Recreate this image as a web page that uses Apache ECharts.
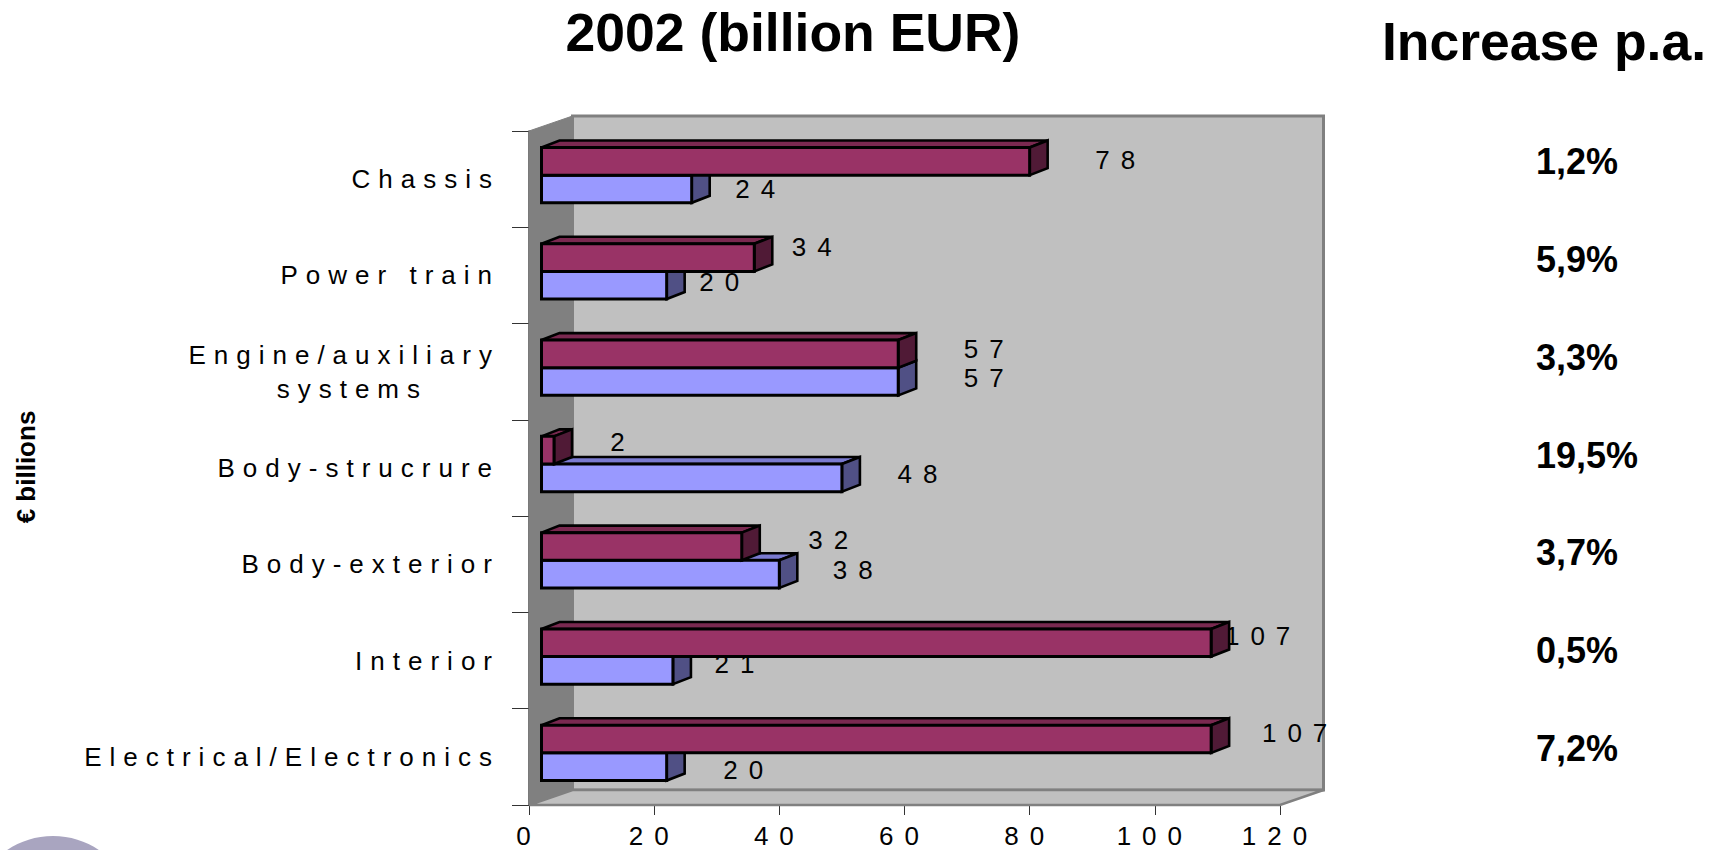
<!DOCTYPE html>
<html><head><meta charset="utf-8">
<style>
html,body{margin:0;padding:0;background:#fff}
#c{width:1715px;height:850px}
svg text[fill="#010101"]{letter-spacing:8px}
svg text[fill="#020202"]{letter-spacing:11px}
</style>
<script src="https://cdn.jsdelivr.net/npm/echarts@6/dist/echarts.min.js"></script>
</head><body><div id="c"></div>
<script>
const categories = ['Chassis','Power train','Engine/auxiliary\n{p|systems}','Body-strucrure','Body-exterior','Interior','Electrical/Electronics'];
const maroonValues = [78,34,57,2,32,107,107];
const blueValues = [24,20,57,48,38,21,20];
const increasePa = ['1,2%','5,9%','3,3%','19,5%','3,7%','0,5%','7,2%'];
const xTicks = [0,20,40,60,80,100,120];
const maroonLabelShiftX = [91,63,91,69,92,52,89];
const maroonLabelShiftY = [-1,-11,-5,-8,-6,-7,-6];
const blueLabelShiftX = [69,58,91,81,79,67,82];
const blueLabelShiftY = [0,-3,-4,-4,-4,-6,3];

const FONT = '"Liberation Sans", Arial, sans-serif';
const WALL_DX = 43.5, WALL_DY = -15;
const BAR_X = 12.5, BAR_Y = -4, BAR_FRAC = 0.287, BAR_DX = 18, BAR_DY = -7;

function poly(points, fill, stroke, lw){
  return {type:'polygon', shape:{points}, style:{fill, stroke, lineWidth:lw, lineJoin:'miter'}};
}
function wallItem(params, api){
  const o = api.coord([0, 6]);
  const size = api.size([0, 1]);
  const bandH = size[1];
  const l = o[0], b = o[1] + bandH/2, r = api.coord([120, 6])[0], t = b - bandH*7;
  const d = WALL_DX, e = WALL_DY;
  return {type:'group', children:[
    poly([[l+d,t+e],[r+d,t+e],[r+d,b+e],[l+d,b+e]], '#c0c0c0', '#808080', 3),
    poly([[l,b],[l+d,b+e],[r+d,b+e],[r,b]], '#c0c0c0', '#808080', 2.5),
    poly([[l,t],[l+d,t+e],[l+d,b+e],[l,b]], '#808080', '#808080', 1)
  ]};
}
function barGeom(api, row, val, sign){
  const h = api.size([0,1])[1]*BAR_FRAC;
  const p0 = api.coord([0,row]), p1 = api.coord([val,row]);
  const mid = p0[1] + BAR_Y;
  return {x0:p0[0]+BAR_X, x1:p1[0]+BAR_X, y0: sign<0 ? mid-h : mid, y1: sign<0 ? mid : mid+h};
}
function barItem(front, top, side, sign){
  return function(params, api){
    const g = barGeom(api, api.value(0), api.value(1), sign);
    return {type:'group', children:[
      poly([[g.x0,g.y0],[g.x0+BAR_DX,g.y0+BAR_DY],[g.x1+BAR_DX,g.y0+BAR_DY],[g.x1,g.y0]], top, '#000', 2.6),
      poly([[g.x1,g.y0],[g.x1+BAR_DX,g.y0+BAR_DY],[g.x1+BAR_DX,g.y1+BAR_DY],[g.x1,g.y1]], side, '#000', 2.6),
      poly([[g.x0,g.y0],[g.x1,g.y0],[g.x1,g.y1],[g.x0,g.y1]], front, '#000', 3)
    ]};
  };
}
function labelItem(shiftX, shiftY, sign){
  return function(params, api){
    const row = api.value(0), val = api.value(1);
    const g = barGeom(api, row, val, sign);
    return {type:'text', style:{
      text:String(val), x:g.x1+shiftX[row], y:(g.y0+g.y1)/2+shiftY[row],
      fill:'#020202', font:'26px '+FONT, textAlign:'center', textVerticalAlign:'middle'
    }};
  };
}
const rows = a => a.map((v,i)=>[i,v]);
const chart = echarts.init(document.getElementById('c'), null, {renderer:'svg'});
chart.setOption({
  animation:false,
  backgroundColor:'#fff',
  title:[
    {text:'2002 (billion EUR)', left:788, top:27, textAlign:'center', textVerticalAlign:'middle',
      textStyle:{fontFamily:FONT, fontWeight:'bold', fontSize:53.5, color:'#000'}},
    {text:'Increase p.a.', left:1539, top:36, textAlign:'center', textVerticalAlign:'middle',
      textStyle:{fontFamily:FONT, fontWeight:'bold', fontSize:53.5, color:'#000'}}
  ],
  graphic:[
    {type:'ellipse', shape:{cx:53,cy:918,rx:82,ry:82}, style:{fill:'#a9a5c0'}, silent:true},
    {type:'text', x:26, y:467, rotation:Math.PI/2, style:{text:'€ billions', fill:'#000',
      font:'bold 26px '+FONT, textAlign:'center', textVerticalAlign:'middle'}}
  ],
  grid:[
    {left:529, top:131, width:751, height:674},
    {left:1536, top:113, width:1, height:684, show:false}
  ],
  xAxis:[
    {type:'value', gridIndex:0, min:0, max:120, interval:20, position:'bottom',
      splitLine:{show:false},
      axisLine:{show:true, onZero:false, lineStyle:{color:'#444', width:1.5}},
      axisTick:{show:true, length:10, lineStyle:{color:'#333', width:1}},
      axisLabel:{show:true, margin:18, fontFamily:FONT, fontSize:26, color:'#020202',
        customValues:xTicks, hideOverlap:false}},
    {type:'value', gridIndex:1, show:false, min:0, max:1}
  ],
  yAxis:[
    {type:'category', gridIndex:0, inverse:true, data:categories,
      axisLine:{show:true, onZero:false, lineStyle:{color:'#444', width:1.5}},
      axisTick:{show:true, length:17, lineStyle:{color:'#333', width:1}},
      axisLabel:{margin:29, align:'right', fontFamily:FONT, fontSize:26, color:'#010101', lineHeight:34,
        interval:0,
        rich:{p:{fontFamily:FONT, fontSize:26, color:'#010101', padding:[0,72,0,0], lineHeight:34}}}},
    {type:'category', gridIndex:1, inverse:true, data:increasePa,
      axisLine:{show:false}, axisTick:{show:false},
      axisLabel:{margin:0, align:'left', interval:0, inside:true, fontFamily:FONT, fontWeight:'bold', fontSize:36, color:'#000'}}
  ],
  series:[
    {name:'walls', type:'custom', data:[[6,0]], renderItem:wallItem, encode:{x:1,y:0}, z:1, clip:false, silent:true},
    {name:'maroon labels', type:'custom', data:rows(maroonValues), renderItem:labelItem(maroonLabelShiftX,maroonLabelShiftY,-1), encode:{x:1,y:0}, z:2, clip:false},
    {name:'blue labels', type:'custom', data:rows(blueValues), renderItem:labelItem(blueLabelShiftX,blueLabelShiftY,1), encode:{x:1,y:0}, z:2, clip:false},
    {name:'blue', type:'custom', data:rows(blueValues), renderItem:barItem('#9999ff','#7a7ad0','#505085',1), encode:{x:1,y:0}, z:3, clip:false},
    {name:'maroon', type:'custom', data:rows(maroonValues), renderItem:barItem('#993366','#7a2950','#501a36',-1), encode:{x:1,y:0}, z:4, clip:false}
  ]
});
</script></body></html>
